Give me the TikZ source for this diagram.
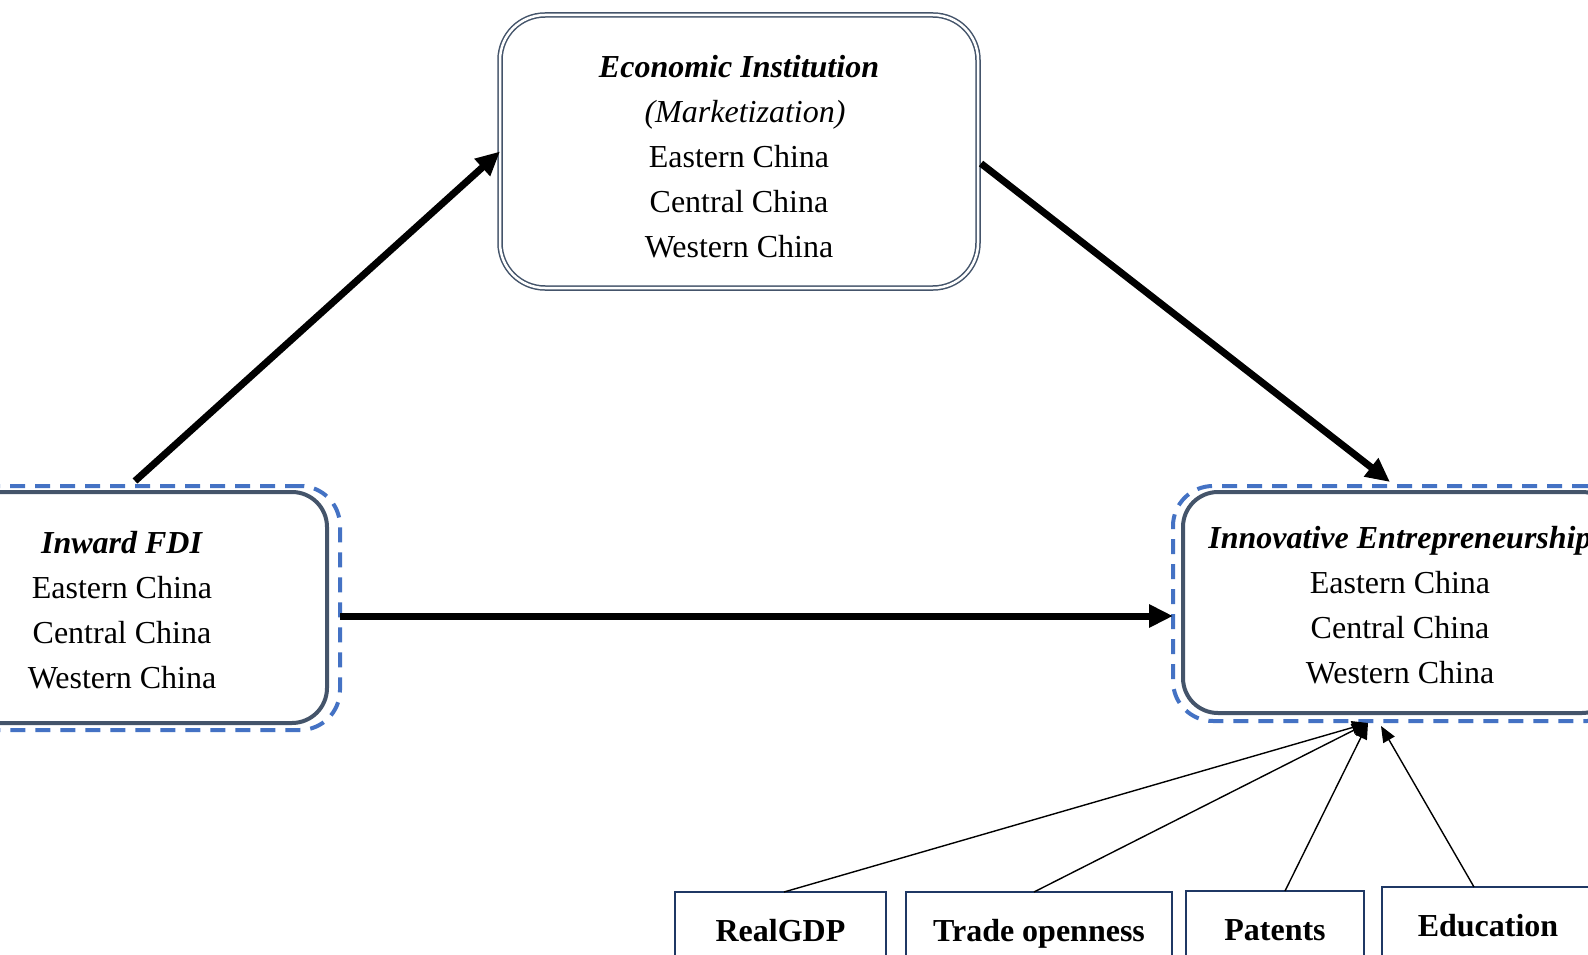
\documentclass[tikz,border=0pt]{standalone}
\usepackage{fontspec}
\setmainfont{Liberation Serif}
\usetikzlibrary{arrows.meta,calc}
\definecolor{boxgrey}{HTML}{44546A}
\definecolor{dashblue}{HTML}{4472C4}
\definecolor{navyline}{HTML}{1F3864}
\begin{document}
\begin{tikzpicture}[x=1pt,y=-1pt,
  every node/.style={inner sep=0pt, outer sep=0pt},
  solidbox/.style={draw=boxgrey, line width=4pt, rounded corners=35pt, shape=rectangle},
  dashbox/.style={draw=dashblue, line width=4pt, rounded corners=40pt, dash pattern=on 15pt off 10pt, shape=rectangle},
  dblbox/.style={draw=boxgrey, double=white, double distance=2.5pt, line width=1.5pt, rounded corners=45pt, shape=rectangle},
  boxtext/.style={align=center, font=\fontsize{32}{45}\selectfont},
  botbox/.style={draw=navyline, line width=2.5pt, minimum height=83pt, text height=22pt, text depth=7pt, font=\fontsize{32}{38}\selectfont\bfseries},
  bigarrow/.style={line width=7pt, -{Triangle[length=24pt,width=22pt]}},
  thinarrow/.style={line width=1.4pt, -{Triangle[length=16pt,width=13pt]}}
]
\useasboundingbox (0,0) rectangle (1588,955);
\fill[white] (0,0) rectangle (1588,955);

% top box
\node[dblbox, minimum width=478pt, minimum height=273pt] (topbox) at (739,151.5) {};
\node[boxtext] (toptext) at (739,157) {\textbf{\textit{Economic Institution}}\\ \hspace*{12pt}\textit{(Marketization)}\\ Eastern China\\ Central China\\ Western China};

% left box
\node[dashbox, minimum width=430pt, minimum height=244pt] (ldash) at (125,608) {};
\node[solidbox, minimum width=407pt, minimum height=231pt] (lbox) at (123.5,607.5) {};
\node[boxtext] (ltext) at (122,610) {\textbf{\textit{Inward FDI}}\\ Eastern China\\ Central China\\ Western China};

% right box
\node[dashbox, minimum width=454pt, minimum height=235pt] (rdash) at (1400,603.5) {};
\node[solidbox, minimum width=434pt, minimum height=221pt] (rbox) at (1400,602.5) {};
\node[boxtext] (rtext) at (1400,605.5) {\textbf{\textit{Innovative Entrepreneurship}}\\ Eastern China\\ Central China\\ Western China};

% bottom boxes
\node[botbox, minimum width=211pt] (g1) at (780.5,933.5) {RealGDP};
\node[botbox, minimum width=266pt] (g2) at (1039,933.5) {Trade openness};
\node[botbox, minimum width=178pt] (g3) at (1275,932.5) {Patents};
\node[botbox, minimum width=212pt] (g4) at (1488,928.5) {Education};

% main arrows
\draw[bigarrow] ($(ldash.north)+(10,-5)$) -- (topbox.west);
\draw[bigarrow] ($(topbox.east)+(3,12)$) -- ($(rdash.north)+(-10,-4)$);
\coordinate (hy) at (0,616);
\draw[bigarrow] (ldash.east |- hy) -- (rdash.west |- hy);

% control arrows
\coordinate (convA) at (1368,723);
\coordinate (convB) at (1381,726);
\draw[thinarrow] ($(g1.north)+(3.5,0)$) -- (convA);
\draw[thinarrow] ($(g2.north)+(-5,0)$) -- (convA);
\draw[thinarrow] ($(g3.north)+(10,0)$) -- (convA);
\draw[thinarrow] ($(g4.north)+(-14,0)$) -- (convB);
\end{tikzpicture}
\end{document}
